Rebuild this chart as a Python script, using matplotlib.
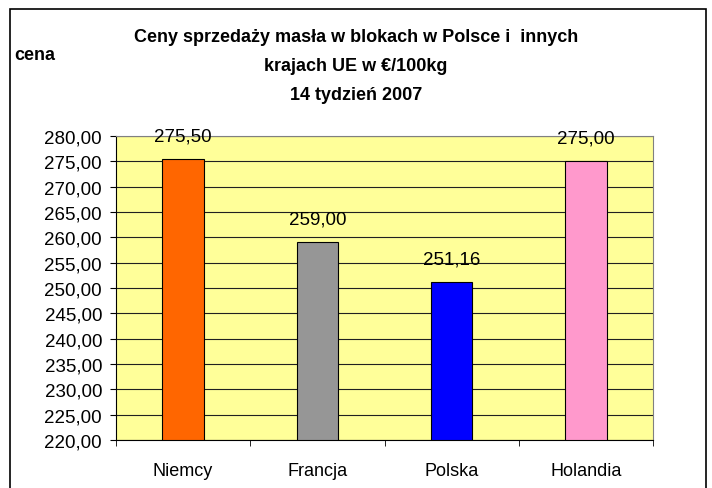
import matplotlib.pyplot as plt
from matplotlib.patches import Rectangle
import numpy as np

plt.rcParams['font.family'] = ['Liberation Sans', 'DejaVu Sans']

kraje = ['Niemcy', 'Francja', 'Polska', 'Holandia']
ceny = [275.50, 259.00, 251.16, 275.00]
kolory = ['#FF6600', '#969696', '#0000FF', '#FF99CC']
y_ticks = np.arange(220, 281, 5)

fig = plt.figure(figsize=(7.12, 4.89), dpi=100)
# ramka wykresu
fig.patches.append(Rectangle((10 / 712, -0.1), 696 / 712, 1 - 10 / 489 + 0.1,
                             transform=fig.transFigure, fill=False,
                             edgecolor='black', linewidth=1.2))

ax = fig.add_axes([116 / 712, 1 - 441 / 489, (653 - 116) / 712, (441 - 137) / 489])
ax.set_facecolor('#FFFF99')

x = np.arange(len(kraje))
ax.bar(x, [c - 220 for c in ceny], bottom=220, width=0.31, color=kolory,
       edgecolor='black', linewidth=0.8, zorder=3)

for xi, c in zip(x, ceny):
    ax.annotate(f'{c:.2f}'.replace('.', ','), (xi, c), xytext=(0, 13.5),
                textcoords='offset points', ha='center', va='baseline',
                fontsize=13.5, zorder=4)

ax.set_xlim(-0.5, len(kraje) - 0.5)
ax.set_ylim(220, 280)
ax.set_yticks(y_ticks)
ax.set_yticklabels([f'{v:.2f}'.replace('.', ',') for v in y_ticks], fontsize=13.5)
ax.yaxis.grid(True, color='#202020', linewidth=0.8, zorder=1)

ax.set_xticks(x)
ax.set_xticklabels(kraje, fontsize=13)
ax.tick_params(axis='x', length=0, pad=16)
ax.set_xticks(np.arange(-0.5, len(kraje)), minor=True)
ax.tick_params(axis='x', which='minor', length=4, color='black')
ax.tick_params(axis='y', length=4, color='black', pad=6)

for s in ['top', 'right']:
    ax.spines[s].set_color('#808080')
for s in ['left', 'bottom']:
    ax.spines[s].set_color('black')

fig.text(0.5, 1 - 38 / 489, 'Ceny sprzedaży masła w blokach w Polsce i  innych',
         ha='center', va='center', fontsize=13, fontweight='bold')
fig.text(0.5, 1 - 67 / 489, 'krajach UE w €/100kg',
         ha='center', va='center', fontsize=13, fontweight='bold')
fig.text(0.5, 1 - 96 / 489, '14 tydzień 2007',
         ha='center', va='center', fontsize=13, fontweight='bold')
fig.text(14 / 712, 1 - 55 / 489, 'cena', ha='left', va='center',
         fontsize=13, fontweight='bold')

fig.savefig('out.png', dpi=100)
